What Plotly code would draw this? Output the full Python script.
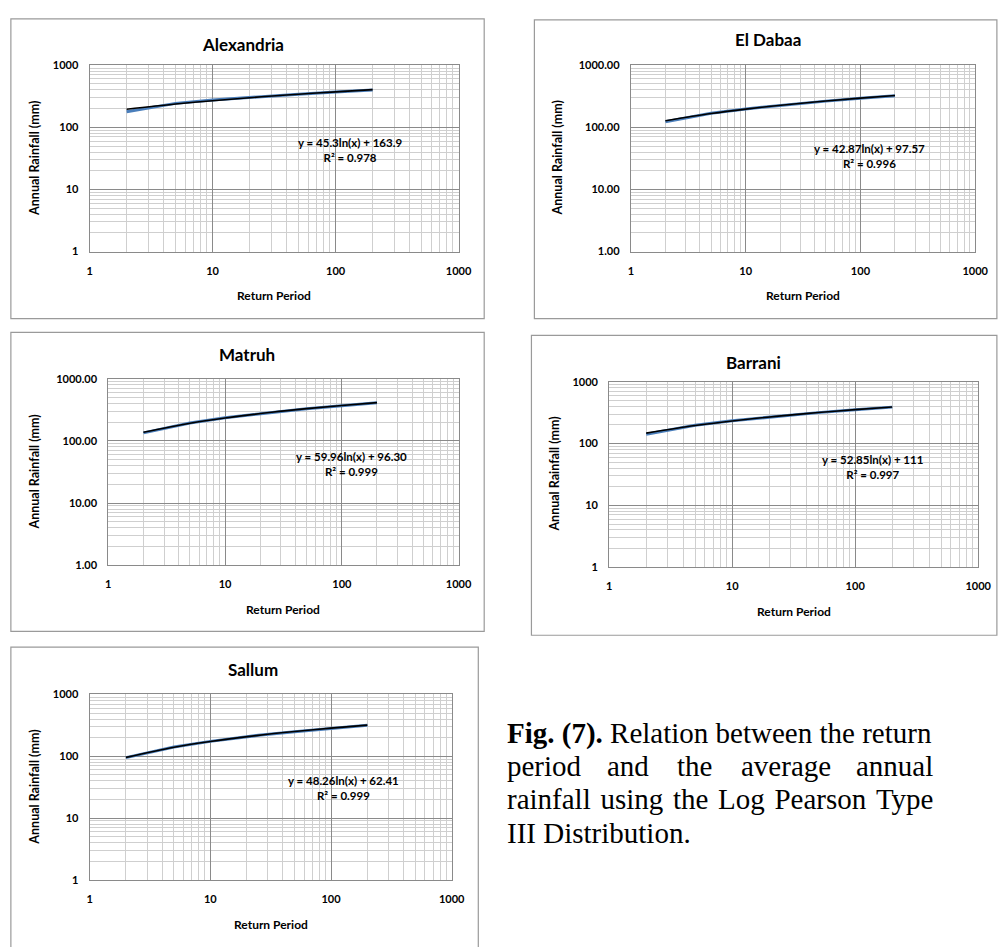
import plotly.graph_objects as go

W, H = 1003, 947

# ---------------- data ----------------
return_period = [2, 5, 10, 25, 50, 100, 200]

stations = ["Alexandria", "El Dabaa", "Matruh", "Barrani", "Sallum"]

alexandria_rain = [178, 243, 276, 314, 342, 371, 398]
el_dabaa_rain = [123, 168, 198, 236, 264, 293, 322]
matruh_rain = [135, 194, 236, 290, 330, 370, 412]
barrani_rain = [142, 198, 235, 282, 317, 352, 389]
sallum_rain = [95, 141, 174, 218, 250, 283, 318]

# logarithmic trend lines (values read at the same return periods)
alexandria_trend = [195.3, 236.8, 268.2, 309.7, 341.1, 372.5, 403.9]
el_dabaa_trend = [127.3, 166.6, 196.3, 235.6, 265.3, 295.0, 324.7]
matruh_trend = [137.9, 192.8, 234.4, 289.3, 330.9, 372.4, 414.0]
barrani_trend = [147.6, 196.1, 232.7, 281.1, 317.7, 354.4, 391.0]
sallum_trend = [95.9, 140.1, 173.5, 217.8, 251.2, 284.7, 318.1]

equations = ["y = 45.3ln(x) + 163.9", "y = 42.87ln(x) + 97.57",
             "y = 59.96ln(x) + 96.30", "y = 52.85ln(x) + 111",
             "y = 48.26ln(x) + 62.41"]
r_squared = ["R² = 0.978", "R² = 0.996", "R² = 0.999", "R² = 0.997", "R² = 0.999"]

tick_vals = [1, 10, 100, 1000]
x_tick_labels = ["1", "10", "100", "1000"]
y_tick_labels_int = ["1", "10", "100", "1000"]
y_tick_labels_dec = ["1.00", "10.00", "100.00", "1000.00"]

rain_series = [alexandria_rain, el_dabaa_rain, matruh_rain, barrani_rain, sallum_rain]
trend_series = [alexandria_trend, el_dabaa_trend, matruh_trend, barrani_trend, sallum_trend]
y_labels = [y_tick_labels_int, y_tick_labels_dec, y_tick_labels_dec, y_tick_labels_int, y_tick_labels_int]

# ---------------- layout geometry (pixels) ----------------
# plot area: x0, x1, y0(top), y1(bottom)
plot_px = [(88, 463, 59, 248), (638, 988, 59, 248), (107, 463, 377, 566),
           (616, 991, 380, 568), (88, 456, 697, 885)]
box_px = [(8, 489, 12, 316), (540, 1010, 13, 316), (8, 489, 330, 633),
          (537, 1010, 333, 637), (8, 483, 649, 960)]
title_px = [(244, 38), (777, 33), (248, 352), (763, 360), (254, 672)]
ytitle_x = [32, 563, 32, 560, 32]
eq_px = [(353, 145), (881, 151), (354, 463), (884, 466), (346, 792)]

FONT = "Lato"
MAJOR = "#8a8a8a"
MINOR = "#cfcfcf"
minor_vals = [m * d for d in (1, 10, 100) for m in range(2, 10)]


def fx(p):
    return p / W


def fy(p):
    return 1 - p / H


fig = go.Figure()
layout = dict(width=W, height=H, margin=dict(l=0, r=0, t=0, b=0),
              paper_bgcolor="white", plot_bgcolor="white", showlegend=False)
annotations = []
shapes = []

for i in range(5):
    n = "" if i == 0 else str(i + 1)
    x0, x1, y0, y1 = plot_px[i]
    fig.add_trace(go.Scatter(x=return_period, y=rain_series[i], mode="lines",
                             line=dict(color="#4a7ebb", width=3),
                             xaxis="x" + n, yaxis="y" + n, hoverinfo="skip"))
    fig.add_trace(go.Scatter(x=return_period, y=trend_series[i], mode="lines",
                             line=dict(color="#000000", width=1.6, shape="spline"),
                             xaxis="x" + n, yaxis="y" + n, hoverinfo="skip"))
    common = dict(type="log", range=[0, 3], showgrid=True, gridcolor=MAJOR, gridwidth=1,
                  showline=True, linecolor=MAJOR, linewidth=1, mirror=True,
                  ticks="", zeroline=False, tickvals=tick_vals,
                  minor=dict(tickvals=minor_vals, showgrid=True, gridcolor=MINOR,
                             gridwidth=1, ticks=""),
                  tickfont=dict(family=FONT, size=11, color="#000000", weight="bold"),
                  fixedrange=True)
    layout["xaxis" + n] = dict(common, domain=[fx(x0), fx(x1)], anchor="y" + n,
                               ticktext=x_tick_labels, ticklabelstandoff=9)
    layout["yaxis" + n] = dict(common, domain=[fy(y1), fy(y0)], anchor="x" + n,
                               ticktext=y_labels[i], ticklabelstandoff=8)

    bx0, bx1, by0, by1 = box_px[i]
    shapes.append(dict(type="rect", xref="paper", yref="paper",
                       x0=fx(bx0), x1=fx(bx1), y0=fy(by1), y1=fy(by0),
                       line=dict(color="#9a9a9a", width=1.2), fillcolor="rgba(0,0,0,0)",
                       layer="below"))

    tx, ty = title_px[i]
    annotations.append(dict(text="<b>%s</b>" % stations[i], x=fx(tx), y=fy(ty),
                            xref="paper", yref="paper", showarrow=False,
                            xanchor="center", yanchor="middle",
                            font=dict(family=FONT, size=17, color="#000000")))
    annotations.append(dict(text="<b>Return Period</b>", x=fx((x0 + x1) / 2), y=fy(y1 + 45),
                            xref="paper", yref="paper", showarrow=False,
                            xanchor="center", yanchor="middle",
                            font=dict(family=FONT, size=12, color="#000000")))
    annotations.append(dict(text="<b>Annual Rainfall (mm)</b>", x=fx(ytitle_x[i]),
                            y=fy((y0 + y1) / 2), xref="paper", yref="paper",
                            showarrow=False, textangle=-90,
                            xanchor="center", yanchor="middle",
                            font=dict(family=FONT, size=12.5, color="#000000")))
    ex, ey = eq_px[i]
    annotations.append(dict(text="<b>%s<br>%s</b>" % (equations[i], r_squared[i]),
                            x=fx(ex), y=fy(ey), xref="paper", yref="paper",
                            showarrow=False, xanchor="center", yanchor="middle",
                            align="center",
                            font=dict(family=FONT, size=11.5, color="#000000")))

# ---------------- caption ----------------
CAP = dict(family="Liberation Serif", size=29, color="#000000")
HS = "\u200a"  # hair space used to mimic justified spacing
caption_words = [
    [("<b>Fig. (7).</b> Relation between the return", 510, "left")],
    [("period", 510, "left"), ("and", 635, "center"), ("the", 703, "center"),
     ("average", 796, "center"), ("annual", 947, "right")],
    [(("rainfall using the Log Pearson Type").replace(" ", " " + HS), 510, "left")],
    [("III Distribution.", 510, "left")],
]
line_y = [737, 770, 803, 837]
for li, words in enumerate(caption_words):
    for w, px, anc in words:
        annotations.append(dict(text=w, x=fx(px), y=fy(line_y[li]), xref="paper", yref="paper",
                                showarrow=False, xanchor=anc, yanchor="middle", font=CAP))

layout["annotations"] = annotations
layout["shapes"] = shapes
fig.update_layout(**layout)
fig.write_html("out.html")
